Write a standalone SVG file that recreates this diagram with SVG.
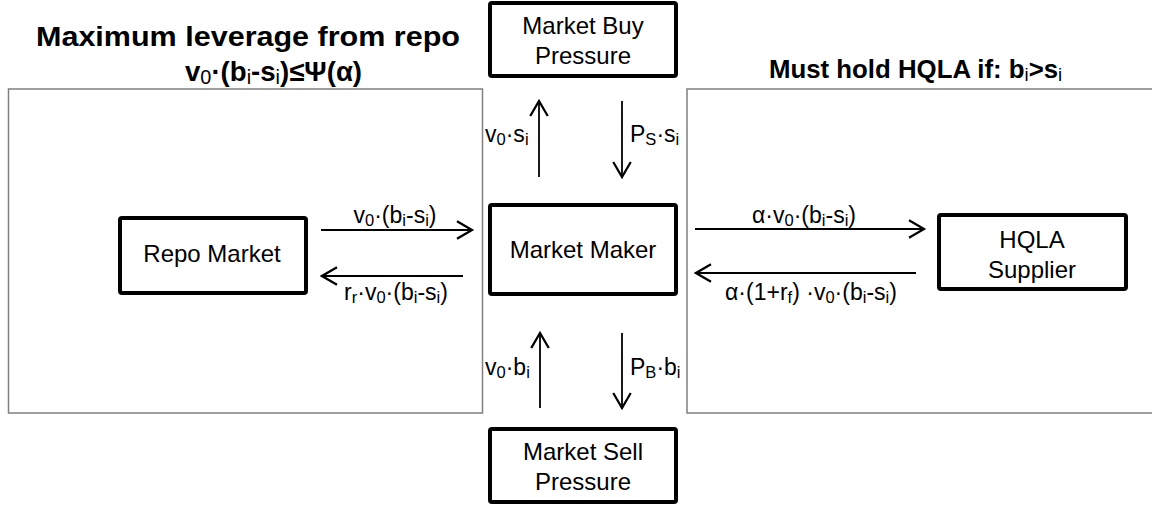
<svg xmlns="http://www.w3.org/2000/svg" width="1152" height="506" viewBox="0 0 1152 506">
<defs>
<marker id="ah" markerUnits="userSpaceOnUse" markerWidth="20" markerHeight="20" viewBox="-14 -8 16 16" refX="0" refY="0" orient="auto">
<path d="M-12,-7 L0,0 L-12,7" fill="none" stroke="#000" stroke-width="1.8"/>
</marker>
</defs>
<style>
text{font-family:"Liberation Sans",Arial,sans-serif;fill:#000}
.panel{fill:none;stroke:#808080;stroke-width:1.5}
.box{fill:#fff;stroke:#000;stroke-width:4}
.nt{font-size:24px;text-anchor:middle}
.lb{font-size:23px}
.title{font-weight:bold}
.sub{font-size:72%;font-weight:normal}
.conn line{stroke:#000;stroke-width:1.8;marker-end:url(#ah)}
</style>
<rect width="1152" height="506" fill="#fff"/>
<g id="panels">
<rect class="panel" x="8.5" y="89" width="474" height="324"/>
<rect class="panel" x="687" y="89" width="470" height="324"/>
</g>
<g id="titles">
<text class="title" x="248" y="46" font-size="28" text-anchor="middle" textLength="424" lengthAdjust="spacingAndGlyphs">Maximum leverage from repo</text>
<text class="title" x="185" y="81" font-size="27.6">v<tspan class="sub" dy="3">0</tspan><tspan dy="-3">·(b</tspan><tspan class="sub" dy="3">i</tspan><tspan dy="-3">-s</tspan><tspan class="sub" dy="3">i</tspan><tspan dy="-3">)≤Ψ(α)</tspan></text>
<text class="title" x="769" y="78" font-size="25.8">Must hold HQLA if: b<tspan class="sub" dy="3">i</tspan><tspan dy="-3">&gt;s</tspan><tspan class="sub" dy="3">i</tspan></text>
</g>
<g id="node-repo">
<rect class="box" x="120" y="218" width="186" height="75" rx="2"/>
<text class="nt" x="212" y="262">Repo Market</text>
</g>
<g id="node-buy">
<rect class="box" x="490" y="3" width="186" height="73" rx="2"/>
<text class="nt" x="583" y="34">Market Buy</text>
<text class="nt" x="583" y="64">Pressure</text>
</g>
<g id="node-maker">
<rect class="box" x="490" y="205" width="186" height="89" rx="2"/>
<text class="nt" x="583" y="258">Market Maker</text>
</g>
<g id="node-sell">
<rect class="box" x="490" y="429" width="186" height="73" rx="2"/>
<text class="nt" x="583" y="460">Market Sell</text>
<text class="nt" x="583" y="490">Pressure</text>
</g>
<g id="node-hqla">
<rect class="box" x="939" y="215" width="187" height="74" rx="2"/>
<text class="nt" x="1032" y="248">HQLA</text>
<text class="nt" x="1032" y="278">Supplier</text>
</g>
<g id="connectors" class="conn">
<line x1="321" y1="230" x2="472" y2="230"/>
<line x1="463" y1="276" x2="322" y2="276"/>
<line x1="695" y1="229" x2="924" y2="229"/>
<line x1="916" y1="273" x2="696" y2="273"/>
<line x1="539" y1="177" x2="539" y2="101"/>
<line x1="622" y1="101" x2="622" y2="177"/>
<line x1="540" y1="408" x2="540" y2="333"/>
<line x1="622" y1="333" x2="622" y2="408"/>
</g>
<g id="labels">
<text class="lb" x="395" y="223" text-anchor="middle">v<tspan class="sub" dy="3">0</tspan><tspan dy="-3">·(b</tspan><tspan class="sub" dy="3">i</tspan><tspan dy="-3">-s</tspan><tspan class="sub" dy="3">i</tspan><tspan dy="-3">)</tspan></text>
<text class="lb" x="396" y="300" text-anchor="middle">r<tspan class="sub" dy="3">r</tspan><tspan dy="-3">·v</tspan><tspan class="sub" dy="3">0</tspan><tspan dy="-3">·(b</tspan><tspan class="sub" dy="3">i</tspan><tspan dy="-3">-s</tspan><tspan class="sub" dy="3">i</tspan><tspan dy="-3">)</tspan></text>
<text class="lb" x="804" y="223" text-anchor="middle">α·v<tspan class="sub" dy="3">0</tspan><tspan dy="-3">·(b</tspan><tspan class="sub" dy="3">i</tspan><tspan dy="-3">-s</tspan><tspan class="sub" dy="3">i</tspan><tspan dy="-3">)</tspan></text>
<text class="lb" x="811" y="300" text-anchor="middle">α·(1+r<tspan class="sub" dy="3">f</tspan><tspan dy="-3">) ·v</tspan><tspan class="sub" dy="3">0</tspan><tspan dy="-3">·(b</tspan><tspan class="sub" dy="3">i</tspan><tspan dy="-3">-s</tspan><tspan class="sub" dy="3">i</tspan><tspan dy="-3">)</tspan></text>
<text class="lb" x="485" y="142">v<tspan class="sub" dy="3">0</tspan><tspan dy="-3">·s</tspan><tspan class="sub" dy="3">i</tspan></text>
<text class="lb" x="630" y="142">P<tspan class="sub" dy="3">S</tspan><tspan dy="-3">·s</tspan><tspan class="sub" dy="3">i</tspan></text>
<text class="lb" x="485" y="375">v<tspan class="sub" dy="3">0</tspan><tspan dy="-3">·b</tspan><tspan class="sub" dy="3">i</tspan></text>
<text class="lb" x="630" y="375">P<tspan class="sub" dy="3">B</tspan><tspan dy="-3">·b</tspan><tspan class="sub" dy="3">i</tspan></text>
</g>
</svg>
